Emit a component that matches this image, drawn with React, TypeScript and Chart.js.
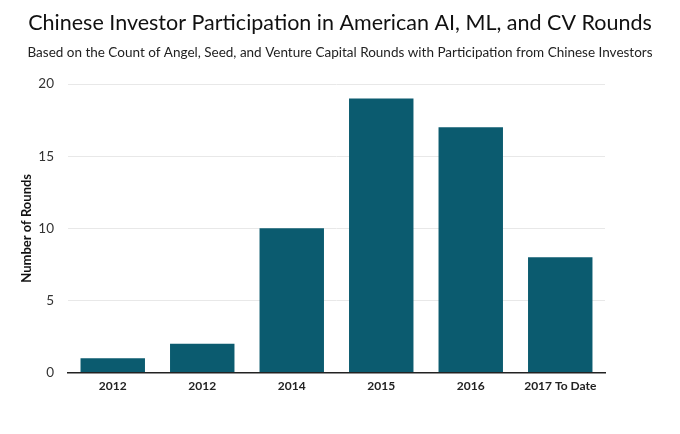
import React, { useEffect, useRef } from "react";
import { Chart, registerables } from "chart.js";

Chart.register(...registerables);

const categories = ["2012", "2012", "2014", "2015", "2016", "2017 To Date"];
const rounds = [1, 2, 10, 19, 17, 8];
const yTicks = [0, 5, 10, 15, 20];

const TITLE = "Chinese Investor Participation in American AI, ML, and CV Rounds";
const SUBTITLE = "Based on the Count of Angel, Seed, and Venture Capital Rounds with Participation from Chinese Investors";

export default function App() {
  const ref = useRef<HTMLCanvasElement | null>(null);
  useEffect(() => {
    if (!ref.current) return;
    const chart = new Chart(ref.current, {
      type: "bar",
      data: {
        labels: categories,
        datasets: [
          {
            label: "Number of Rounds",
            data: rounds,
            backgroundColor: "#0b5b6f",
            borderWidth: 0,
            barPercentage: 0.72,
            categoryPercentage: 1,
            yAxisID: "y",
          },
        ],
      },
      options: {
        animation: false,
        responsive: true,
        maintainAspectRatio: false,
        layout: { padding: { left: 0, right: 0, top: 0, bottom: 27 } },
        plugins: {
          legend: { display: false },
          tooltip: { enabled: false },
          title: {
            display: true,
            text: TITLE,
            color: "#111",
            font: { family: "Lato", size: 21.5, weight: "normal" },
            padding: { top: 2, bottom: 9 },
          },
          subtitle: {
            display: true,
            text: SUBTITLE,
            color: "#222",
            font: { family: "Lato", size: 13.5, weight: "normal" },
            padding: { top: 0, bottom: 23 },
          },
        },
        scales: {
          x: {
            grid: { display: false, drawTicks: false },
            border: { display: true, color: "#222", width: 1.5 },
            ticks: {
              color: "#222",
              font: { family: "Lato", size: 12, weight: "bold" },
              padding: 6,
            },
          },
          y: {
            min: 0,
            max: 20,
            afterBuildTicks: (axis: any) => {
              axis.ticks = yTicks.map((v) => ({ value: v }));
            },
            afterFit: (axis: any) => {
              axis.width = 60;
            },
            grid: { color: "#e8e8e8", drawTicks: false },
            border: { display: false },
            ticks: {
              color: "#333",
              font: { family: "Lato", size: 13.5 },
              padding: 14,
            },
            title: {
              display: true,
              text: "Number of Rounds",
              color: "#111",
              font: { family: "Lato", size: 13, weight: "bold" },
              padding: { top: 11, bottom: 4 },
            },
          },
          yRight: {
            type: "linear",
            position: "right",
            display: true,
            min: 0,
            max: 1,
            grid: { display: false, drawTicks: false },
            border: { display: false },
            ticks: { display: false },
            afterFit: (axis: any) => {
              axis.width = 67;
            },
          },
        },
      },
    });
    return () => chart.destroy();
  }, []);
  return (
    <div style={{ width: 664, height: 418 }}>
      <canvas ref={ref} />
    </div>
  );
}
